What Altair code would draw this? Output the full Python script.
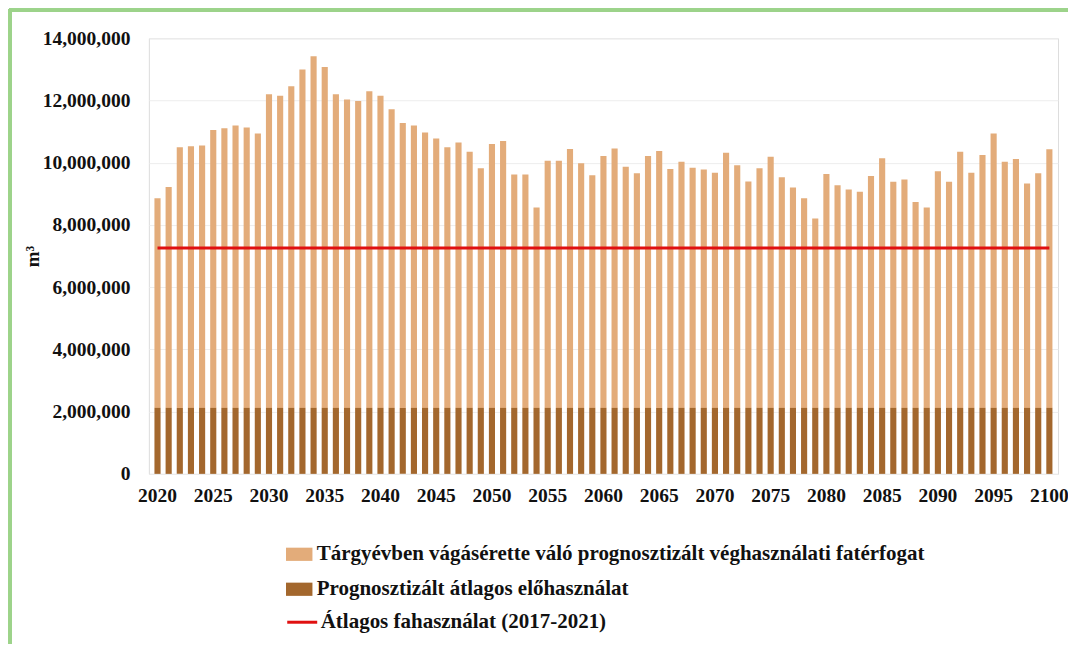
import altair as alt
import pandas as pd

years = list(range(2020, 2101))

# total bar height (million m3)
totals_m = [
    8.86, 9.22, 10.50, 10.53, 10.55, 11.05, 11.11, 11.20, 11.13, 10.94,
    12.20, 12.15, 12.46, 13.00, 13.42, 13.08, 12.20, 12.03, 11.98, 12.30,
    12.15, 11.72, 11.28, 11.20, 10.97, 10.78, 10.50, 10.65, 10.35, 9.82,
    10.60, 10.70, 9.62, 9.62, 8.56, 10.06, 10.06, 10.44, 9.98, 9.60,
    10.22, 10.46, 9.87, 9.66, 10.22, 10.38, 9.80, 10.03, 9.84, 9.78,
    9.68, 10.32, 9.92, 9.40, 9.82, 10.19, 9.53, 9.20, 8.86, 8.21,
    9.64, 9.28, 9.14, 9.07, 9.57, 10.14, 9.39, 9.46, 8.74, 8.56,
    9.73, 9.39, 10.35, 9.68, 10.25, 10.94, 10.03, 10.12, 9.33, 9.66,
    10.43,
]
# prognosticated average thinning (előhasználat), million m3
elo_m = [2.12] * 81
avg_use_m = 7.26

s_fin = "Tárgyévben vágásérette váló prognosztizált véghasználati fatérfogat"
s_elo = "Prognosztizált átlagos előhasználat"
s_avg = "Átlagos fahasználat (2017-2021)"

df = pd.DataFrame({
    "year": years,
    "total": [v * 1e6 for v in totals_m],
    "elo": [v * 1e6 for v in elo_m],
    "avg": [avg_use_m * 1e6] * len(years),
})

FONT = "Liberation Serif"
tan = "#E3AC7A"
brown = "#A3672D"
red = "#E01010"
TXT = "#111111"

x_scale = alt.Scale(paddingInner=0.45, paddingOuter=0.5)

x_enc = alt.X(
    "year:O",
    title=None,
    scale=x_scale,
    axis=alt.Axis(
        values=[y for y in years if y % 5 == 0],
        labelAngle=0,
        ticks=False,
        domain=False,
        labelPadding=13,
        labelFont=FONT,
        labelFontWeight="bold",
        labelFontSize=19.5,
        labelColor=TXT,
    ),
)

y_axis = alt.Axis(
    values=[0, 2e6, 4e6, 6e6, 8e6, 10e6, 12e6, 14e6],
    format=",d",
    ticks=False,
    domain=False,
    grid=True,
    gridColor="#EDEDED",
    labelPadding=19,
    labelFont=FONT,
    labelFontWeight="bold",
    labelFontSize=19.5,
    labelColor=TXT,
    title="m³",
    titleFont=FONT,
    titleFontWeight="bold",
    titleFontSize=19,
    titleColor=TXT,
    titlePadding=0,
)

fill_scale = alt.Scale(domain=[s_fin, s_elo], range=[tan, brown])
fill_legend = alt.Legend(
    title=None,
    orient="none",
    legendX=137,
    legendY=503,
    symbolType="M-1,-0.5H1V0.5H-1Z",
    symbolSize=700,
    symbolStrokeWidth=0,
    labelFont=FONT,
    labelFontWeight="bold",
    labelFontSize=21,
    labelColor=TXT,
    rowPadding=11,
    labelOffset=4,
    labelLimit=900,
)

tan_bars = alt.Chart(df).transform_calculate(series=f"'{s_fin}'").mark_bar().encode(
    x=x_enc,
    y=alt.Y("total:Q", axis=y_axis, scale=alt.Scale(domain=[0, 14e6])),
    y2="elo:Q",
    color=alt.Color("series:N", scale=fill_scale, legend=fill_legend),
)

brown_bars = alt.Chart(df).transform_calculate(series=f"'{s_elo}'").mark_bar().encode(
    x=x_enc,
    y=alt.Y("elo:Q"),
    y2=alt.datum(0),
    color=alt.Color("series:N", scale=fill_scale, legend=fill_legend),
)

avg_line = alt.Chart(df).transform_calculate(series=f"'{s_avg}'").mark_line(
    strokeWidth=3
).encode(
    x=alt.X("year:O", scale=x_scale),
    y=alt.Y("avg:Q"),
    stroke=alt.Stroke(
        "series:N",
        scale=alt.Scale(domain=[s_avg], range=[red]),
        legend=alt.Legend(
            title=None,
            orient="none",
            legendX=137,
            legendY=568,
            symbolType="stroke",
            symbolSize=900,
            symbolStrokeWidth=3,
            labelFont=FONT,
            labelFontWeight="bold",
            labelFontSize=21,
            labelColor=TXT,
            labelOffset=2,
            labelLimit=900,
        ),
    ),
)

border_top = alt.Chart(df).mark_rule(color="#9DD38A", strokeWidth=3).encode(
    x=alt.value(-140), x2=alt.value(930), y=alt.value(-28)
)
border_left = alt.Chart(df).mark_rule(color="#9DD38A", strokeWidth=3).encode(
    x=alt.value(-139), y=alt.value(-29), y2=alt.value(610)
)

chart = alt.layer(tan_bars, brown_bars, avg_line, border_top, border_left).resolve_scale(
    color="shared"
).properties(
    width=910,
    height=436,
    autosize=alt.AutoSizeParams(type="none"),
    padding={"left": 141, "top": 30, "right": 10, "bottom": 170},
).configure_view(stroke=None).configure(background="white")

chart.save("out.html", embed_options={"renderer": "svg", "actions": False})
